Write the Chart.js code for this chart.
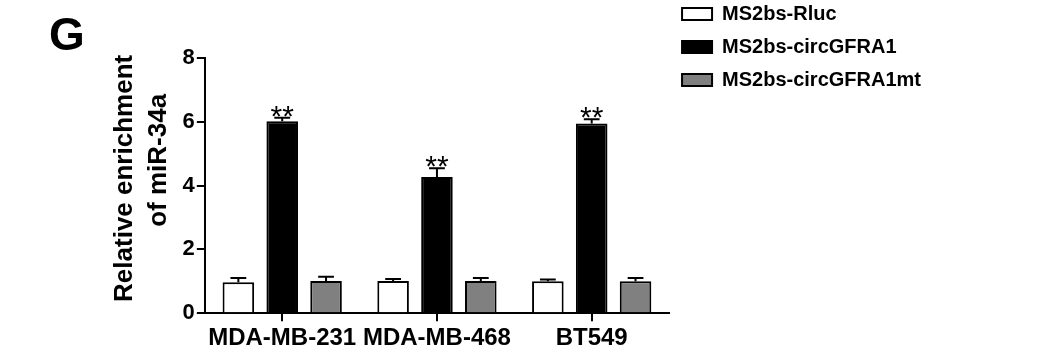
<!DOCTYPE html>
<html>
<head>
<meta charset="utf-8">
<script src="https://cdn.jsdelivr.net/npm/chart.js@4.4.0/dist/chart.umd.min.js"></script>
<style>
  html, body { margin: 0; padding: 0; background: #fff; }
  #wrap { width: 1047px; height: 354px; }
</style>
</head>
<body>
<div id="wrap"><canvas id="chart"></canvas></div>
<script>
// data
const cellLines = ["MDA-MB-231", "MDA-MB-468", "BT549"];
const rlucMean = [0.97, 1.01, 1.0];
const rlucErr = [0.13, 0.06, 0.06];
const circMean = [6.02, 4.27, 5.95];
const circErr = [0.11, 0.27, 0.13];
const mutMean = [1.01, 1.01, 1.0];
const mutErr = [0.13, 0.09, 0.1];
const yTicks = [0, 2, 4, 6, 8];
const stars = ["", "**", ""]; // per dataset

const FONT = "'Liberation Sans', Arial, sans-serif";

// error bars (upper only) + significance stars
const errorBars = {
  id: "errorBars",
  afterDatasetsDraw(chart) {
    const ctx = chart.ctx;
    const y = chart.scales.y;
    chart.data.datasets.forEach((ds, i) => {
      const meta = chart.getDatasetMeta(i);
      meta.data.forEach((bar, j) => {
        const top = y.getPixelForValue(ds.data[j] + ds.err[j]);
        const half = bar.width * 0.25;
        ctx.save();
        ctx.strokeStyle = "#000";
        ctx.lineWidth = 2;
        ctx.beginPath();
        ctx.moveTo(bar.x, bar.y);
        ctx.lineTo(bar.x, top);
        ctx.moveTo(bar.x - half, top);
        ctx.lineTo(bar.x + half, top);
        ctx.stroke();
        if (stars[i]) {
          ctx.fillStyle = "#000";
          ctx.font = "30px " + FONT;
          ctx.textAlign = "center";
          ctx.textBaseline = "alphabetic";
          ctx.fillText(stars[i], bar.x, top + 8);
        }
        ctx.restore();
      });
    });
  }
};

// panel letter
const panelLetter = {
  id: "panelLetter",
  afterDraw(chart) {
    const ctx = chart.ctx;
    ctx.save();
    ctx.fillStyle = "#000";
    ctx.font = "bold 46px " + FONT;
    ctx.textBaseline = "alphabetic";
    ctx.fillText("G", 49, 50);
    ctx.restore();
  }
};

new Chart(document.getElementById("chart"), {
  type: "bar",
  data: {
    labels: cellLines,
    datasets: [
      { label: "MS2bs-Rluc", data: rlucMean, err: rlucErr, backgroundColor: "#ffffff" },
      { label: "MS2bs-circGFRA1", data: circMean, err: circErr, backgroundColor: "#000000" },
      { label: "MS2bs-circGFRA1mt", data: mutMean, err: mutErr, backgroundColor: "#808080" }
    ]
  },
  options: {
    responsive: true,
    maintainAspectRatio: false,
    animation: false,
    layout: { padding: { top: -9, left: 108, right: 116, bottom: -2 } },
    datasets: {
      bar: {
        borderColor: "#000",
        borderWidth: 2,
        borderSkipped: "start",
        categoryPercentage: 0.85,
        barPercentage: 0.72
      }
    },
    plugins: {
      // empty title only pushes the plot area down, legend stays at the top
      title: {
        display: true,
        text: "",
        fullSize: false,
        font: { size: 10, lineHeight: 1 },
        padding: { top: 0, bottom: 57 }
      },
      legend: {
        position: "right",
        align: "start",
        maxWidth: 400,
        labels: {
          color: "#000",
          font: { family: FONT, size: 20, weight: "bold" },
          boxWidth: 30,
          boxHeight: 12,
          padding: 13
        }
      },
      tooltip: { enabled: false }
    },
    scales: {
      x: {
        grid: { display: true, drawOnChartArea: false, offset: false, color: "#000", lineWidth: 2, tickLength: 8 },
        border: { color: "#000", width: 2 },
        ticks: { color: "#000", font: { family: FONT, size: 24, weight: "bold" }, padding: 3 }
      },
      y: {
        min: 0,
        max: 8,
        afterBuildTicks(scale) { scale.ticks = yTicks.map(v => ({ value: v })); },
        grid: { display: true, drawOnChartArea: false, color: "#000", lineWidth: 2, tickLength: 8 },
        border: { color: "#000", width: 2 },
        ticks: { color: "#000", font: { family: FONT, size: 22, weight: "bold" }, padding: 2 },
        title: {
          display: true,
          // leading spaces nudge each line up like in the original
          text: ["  Relative enrichment", "       of miR-34a"],
          color: "#000",
          font: { family: FONT, size: 26, weight: "bold", lineHeight: 1.3 },
          padding: { top: 0, bottom: 5 }
        }
      }
    }
  },
  plugins: [errorBars, panelLetter]
});
</script>
</body>
</html>
